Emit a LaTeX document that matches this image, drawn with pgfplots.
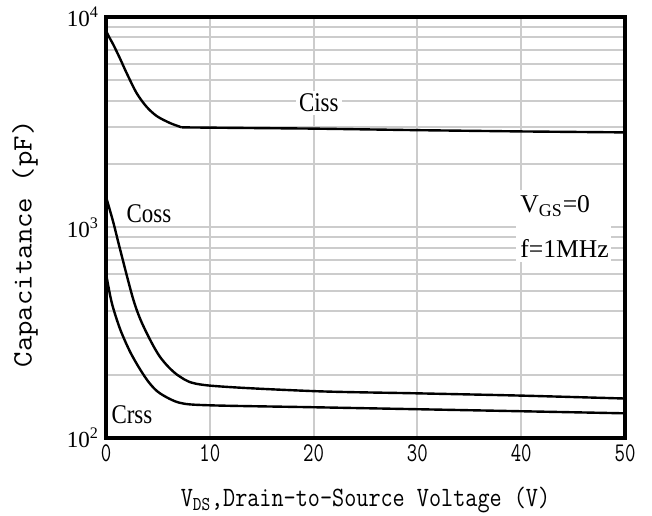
\documentclass[border=0pt]{standalone}
\usepackage{fontspec}
\setmainfont{Liberation Serif}
\usepackage{graphicx}
\usepackage{pgfplots}
\pgfplotsset{compat=1.18}
\newcommand\tk[1]{\scalebox{0.75}[1]{#1}}
\newcommand\lab[1]{\scalebox{0.85}[1]{#1}}

% capacitance vs drain-source voltage
\pgfplotstableread{
x y
0 8600
0.35 7950
0.7 7400
1.35 6350
2.0 5400
2.95 4350
3.9 3750
4.9 3380
6.2 3130
7.3 2990
}\cissa
\pgfplotstableread{
x y
7.3 2990
20 2950
30 2900
40 2860
50 2830
}\cissb
\pgfplotstableread{
x y
0 1400
0.7 1060
1.35 790
2.63 455
3.6 340
5.2 243
7.1 196
9.7 178
20 167
30 163
40 159
50 154
}\coss
\pgfplotstableread{
x y
0 606
0.55 440
1.35 330
2.3 258
3.28 212
4.2 182
5.2 163
7.1 147
10 143
20 140
30 137
40 134
50 131
}\crss

\begin{document}
\begin{tikzpicture}
\path[use as bounding box] (0,0) rectangle (326pt,257.5pt);
\begin{axis}[
  at={(53pt,38.5pt)}, anchor=south west,
  scale only axis, width=259.5pt, height=210.5pt,
  ymode=log,
  xmin=0, xmax=50, ymin=100, ymax=10000,
  xtick={0,10,20,30,40,50},
  xticklabels={\tk{0},\tk{10},\tk{20},\tk{30},\tk{40},\tk{50}},
  ytick={100,1000,10000},
  yticklabels={10\textsuperscript{2},10\textsuperscript{3},10\textsuperscript{4}},
  minor ytick={200,300,400,500,600,700,800,900,2000,3000,4000,5000,6000,7000,8000,9000},
  grid=both,
  major grid style={draw=gray!40, line width=1pt},
  minor grid style={draw=gray!40, line width=1pt},
  axis line style={line width=2pt},
  major tick length=0pt, minor tick length=0pt,
  xticklabel style={font=\ttfamily\fontsize{13.5}{14}\selectfont},
  yticklabel style={font=\fontsize{11.5}{13}\selectfont},
  xlabel={\scalebox{0.84}[1]{V\textsubscript{DS},Drain-to-Source Voltage (V)}},
  ylabel={\scalebox{1.07}[1]{Capacitance (pF)}},
  xlabel style={font=\ttfamily\fontsize{14}{15}\selectfont, at={(axis description cs:0.5,-0.147)}, anchor=center},
  ylabel style={font=\ttfamily\fontsize{14}{15}\selectfont, at={(axis description cs:-0.156,0.461)}, anchor=center},
]
\addplot[black, line width=1.2pt, smooth] table[x=x, y=y] {\cissa};
\addplot[black, line width=1.2pt] table[x=x, y=y] {\cissb};
\addplot[black, line width=1.2pt, smooth] table[x=x, y=y] {\coss};
\addplot[black, line width=1.2pt, smooth] table[x=x, y=y] {\crss};
\node[fill=white, inner sep=1.5pt, font=\fontsize{13.5}{15}\selectfont] at (axis cs:20.5,3900) {\lab{Ciss}};
\node[fill=white, inner sep=1.5pt, font=\fontsize{13.5}{15}\selectfont] at (axis cs:4.14,1159) {\lab{Coss}};
\node[inner sep=1pt, font=\fontsize{13.5}{15}\selectfont] at (axis cs:2.5,128.6) {\lab{Crss}};
\node[fill=white, anchor=north west, inner xsep=2pt, inner ysep=2.5pt, align=left, text width=43.5pt,
  font=\fontsize{12.8}{22.5}\selectfont] at (axis cs:39.5,1507) {V\textsubscript{GS}=0\\f=1MHz};
\end{axis}
\end{tikzpicture}
\end{document}
